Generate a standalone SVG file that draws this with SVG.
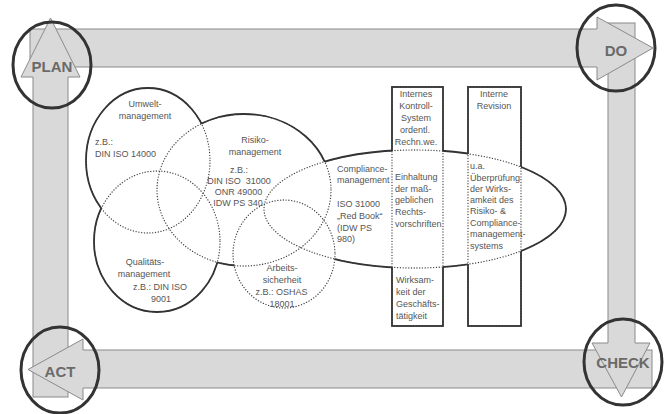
<svg xmlns="http://www.w3.org/2000/svg" width="668" height="414" viewBox="0 0 668 414">
<style>
.band{fill:#d9d9d9;stroke:#8a8a8a;stroke-width:1}
.hf{fill:#d9d9d9;stroke:none}
.hs{fill:none;stroke:#8a8a8a;stroke-width:1;stroke-linejoin:miter}
.ring{fill:none;stroke:#333;stroke-width:3}
.pdca{font-family:"Liberation Sans",Arial,sans-serif;font-weight:bold;font-size:15px;fill:#6a6a6a;text-anchor:middle}
.sol{fill:none;stroke:#333;stroke-width:1.8}
.dot{fill:none;stroke:#444;stroke-width:1.3;stroke-dasharray:0.1 2.7;stroke-linecap:round}
.t{font-family:"Liberation Sans",Arial,sans-serif;font-size:9px;fill:#555}
.m{text-anchor:middle}
</style>
<defs>
<clipPath id="oU"><path clip-rule="evenodd" d="M0 0H668V414H0Z M86 160.5a62 72.5 0 1 0 124 0a62 72.5 0 1 0 -124 0Z"/></clipPath>
<clipPath id="oQ"><path clip-rule="evenodd" d="M0 0H668V414H0Z M94 241.5a63 70.5 0 1 0 126 0a63 70.5 0 1 0 -126 0Z"/></clipPath>
<clipPath id="oR"><path clip-rule="evenodd" d="M0 0H668V414H0Z M157 190a87 76 0 1 0 174 0a87 76 0 1 0 -174 0Z"/></clipPath>
<clipPath id="oA"><path clip-rule="evenodd" d="M0 0H668V414H0Z M233 254a51 54 0 1 0 102 0a51 54 0 1 0 -102 0Z"/></clipPath>
<clipPath id="oC"><path clip-rule="evenodd" d="M0 0H668V414H0Z M264 209a151 59 0 1 0 302 0a151 59 0 1 0 -302 0Z"/></clipPath>
<clipPath id="oK"><path clip-rule="evenodd" d="M0 0H668V414H0Z M392 87H443V326H392Z"/></clipPath>
<clipPath id="oV"><path clip-rule="evenodd" d="M0 0H668V414H0Z M468 87H521V326H468Z"/></clipPath>
</defs>
<rect width="668" height="414" fill="#fff"/>

<g id="connectors">
<rect class="band" x="30" y="29" width="575" height="38"/>
<rect class="band" x="608" y="23" width="27" height="327"/>
<rect class="band" x="75" y="350" width="577" height="38"/>
<rect class="band" x="33" y="70" width="35" height="327"/>
<path class="hf" d="M597 17L653 48L597 80Z"/>
<path class="hs" d="M597 29V17L653 48L597 80V67"/>
<path class="hf" d="M592 343H650L621.5 397Z"/>
<path class="hs" d="M608 343H592L621.5 397L650 343H635"/>
<path class="hf" d="M83 339V400L28 369.5Z"/>
<path class="hs" d="M83 350V339L28 369.5L83 400V388"/>
<path class="hf" d="M21 77H80L50.5 18Z"/>
<path class="hs" d="M33 77H21L50.5 18L80 77H68"/>
</g>

<g id="plan"><ellipse class="ring" cx="52" cy="65" rx="39" ry="43"/><text class="pdca" x="52" y="72">PLAN</text></g>
<g id="do"><ellipse class="ring" cx="616" cy="48" rx="39" ry="43"/><text class="pdca" x="616" y="56">DO</text></g>
<g id="act"><ellipse class="ring" cx="60" cy="370" rx="39" ry="43"/><text class="pdca" x="60" y="377">ACT</text></g>
<g id="check"><ellipse class="ring" cx="623" cy="362" rx="39" ry="43"/><text class="pdca" x="623" y="368">CHECK</text></g>

<g id="umwelt">
<ellipse class="dot" cx="148" cy="160.5" rx="62" ry="72.5"/>
<g clip-path="url(#oQ)"><g clip-path="url(#oR)"><ellipse class="sol" cx="148" cy="160.5" rx="62" ry="72.5"/></g></g>
<text class="t m" x="145" y="107">Umwelt-</text>
<text class="t m" x="145" y="119">management</text>
<text class="t" x="95" y="145">z.B.:</text>
<text class="t" x="95" y="157">DIN ISO 14000</text>
</g>

<g id="qualitaet">
<ellipse class="dot" cx="157" cy="241.5" rx="63" ry="70.5"/>
<g clip-path="url(#oU)"><g clip-path="url(#oR)"><ellipse class="sol" cx="157" cy="241.5" rx="63" ry="70.5"/></g></g>
<text class="t m" x="145" y="265">Qualitäts-</text>
<text class="t m" x="144" y="277">management</text>
<text class="t m" x="160" y="290">z.B.: DIN ISO</text>
<text class="t m" x="161" y="302">9001</text>
</g>

<g id="risiko">
<ellipse class="dot" cx="244" cy="190" rx="87" ry="76"/>
<g clip-path="url(#oU)"><g clip-path="url(#oQ)"><g clip-path="url(#oA)"><g clip-path="url(#oC)"><ellipse class="sol" cx="244" cy="190" rx="87" ry="76"/></g></g></g></g>
<text class="t m" x="255" y="143">Risiko-</text>
<text class="t m" x="255" y="155">management</text>
<text class="t m" x="239" y="173">z.B.:</text>
<text class="t m" x="239" y="184" xml:space="preserve">DIN ISO  31000</text>
<text class="t m" x="238.5" y="195">ONR 49000</text>
<text class="t m" x="238" y="206">IDW PS 340</text>
</g>

<g id="arbeit">
<ellipse class="dot" cx="284" cy="254" rx="51" ry="54"/>
<text class="t m" x="282" y="271">Arbeits-</text>
<text class="t m" x="282" y="283">sicherheit</text>
<text class="t m" x="281.5" y="295">z.B.: OSHAS</text>
<text class="t m" x="282" y="307">18001</text>
</g>

<g id="compliance">
<ellipse class="dot" cx="415" cy="209" rx="151" ry="59"/>
<g clip-path="url(#oR)"><g clip-path="url(#oA)"><g clip-path="url(#oK)"><g clip-path="url(#oV)"><ellipse class="sol" cx="415" cy="209" rx="151" ry="59"/></g></g></g></g>
<text class="t" x="337" y="172">Compliance-</text>
<text class="t" x="337" y="183">management</text>
<text class="t" x="337" y="207">ISO 31000</text>
<text class="t" x="337" y="219">„Red Book“</text>
<text class="t" x="337" y="231">(IDW PS</text>
<text class="t" x="337" y="242">980)</text>
</g>

<g id="iks">
<rect class="dot" x="392" y="87" width="51" height="239"/>
<g clip-path="url(#oC)"><rect class="sol" x="392" y="87" width="51" height="239"/></g>
<text class="t m" x="416" y="97">Internes</text>
<text class="t m" x="416" y="109">Kontroll-</text>
<text class="t m" x="416" y="121">System</text>
<text class="t m" x="415" y="133">ordentl.</text>
<text class="t m" x="416" y="145">Rechn.we.</text>
<text class="t" x="395" y="180">Einhaltung</text>
<text class="t" x="395" y="192">der maß-</text>
<text class="t" x="395" y="203">geblichen</text>
<text class="t" x="395" y="215">Rechts-</text>
<text class="t" x="395" y="227">vorschriften</text>
<text class="t" x="396" y="283">Wirksam-</text>
<text class="t" x="396" y="295">keit der</text>
<text class="t" x="396" y="307">Geschäfts-</text>
<text class="t" x="396" y="319">tätigkeit</text>
</g>

<g id="revision">
<rect class="dot" x="468" y="87" width="53" height="239"/>
<g clip-path="url(#oC)"><rect class="sol" x="468" y="87" width="53" height="239"/></g>
<text class="t m" x="494" y="97">Interne</text>
<text class="t m" x="494" y="109">Revision</text>
<text class="t" x="470" y="169">u.a.</text>
<text class="t" x="470" y="181">Überprüfung</text>
<text class="t" x="470" y="192">der Wirks-</text>
<text class="t" x="470" y="203">amkeit des</text>
<text class="t" x="470" y="214">Risiko- &amp;</text>
<text class="t" x="470" y="226">Compliance-</text>
<text class="t" x="470" y="237">management-</text>
<text class="t" x="470" y="249">systems</text>
</g>
</svg>
